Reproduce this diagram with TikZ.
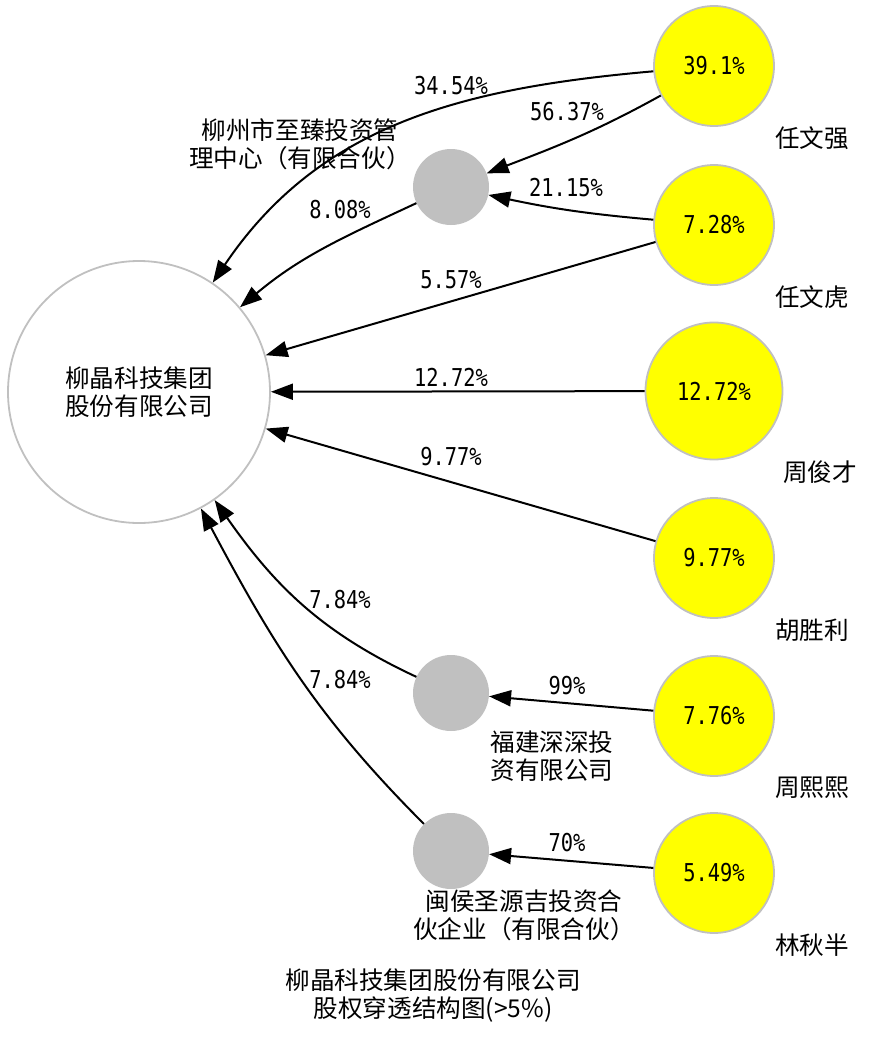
\documentclass[tikz,border=0pt]{standalone}
\usepackage{fontspec}
\setmainfont{Noto Sans CJK SC}
\newfontfamily\zahlfont[FakeStretch=0.83]{DejaVu Sans Mono}
\usetikzlibrary{arrows.meta}
\definecolor{rand}{HTML}{C0C0C0}
\definecolor{gelb}{HTML}{FFFF00}

\begin{document}
\begin{tikzpicture}[x=1pt,y=-1pt,
    pfeil/.style={line width=2pt, -{Triangle[length=22pt,width=16pt]}},
    person/.style={circle, draw=rand, line width=1.8pt, fill=gelb, minimum size=120pt, inner sep=0pt,
                   font=\zahlfont\fontsize{24.6}{28}\selectfont},
    firma/.style={circle, fill=rand, minimum size=76pt, inner sep=0pt},
    anteil/.style={inner sep=0pt, font=\zahlfont\fontsize{24.6}{28}\selectfont},
    beschrift/.style={inner sep=0pt, align=center, font=\fontsize{24.6}{28}\selectfont}]

    \useasboundingbox (0,0) rectangle (868,1042);

    % Zielgesellschaft
    \node[circle, draw=rand, line width=1.8pt, minimum size=262pt, inner sep=0pt, align=center,
          font=\fontsize{24.6}{28}\selectfont] (liujing) at (139,392) {柳晶科技集团\\股份有限公司};

    % Personen (gelb)
    \node[person] (renwq) at (714,66) {39.1\%};
    \node[person] (renwh) at (714,225) {7.28\%};
    \node[person, minimum size=137pt] (zhoujc) at (714,391) {12.72\%};
    \node[person] (husl) at (714,558) {9.77\%};
    \node[person] (zhouxx) at (714,716) {7.76\%};
    \node[person] (linqb) at (714,873) {5.49\%};

    \node[beschrift] (nrenwq) at (812,138) {任文强};
    \node[beschrift] (nrenwh) at (812,297) {任文虎};
    \node[beschrift] (nzhoujc) at (820,472) {周俊才};
    \node[beschrift] (nhusl) at (812,630) {胡胜利};
    \node[beschrift] (nzhouxx) at (812,788) {周熙熙};
    \node[beschrift] (nlinqb) at (812,945) {林秋半};

    % Zwischengesellschaften (grau)
    \node[firma] (zhizhen) at (451,187) {};
    \node[firma] (shenshen) at (451,693) {};
    \node[firma] (shengyuan) at (451,851) {};

    \node[beschrift] (nzhizhen) at (300,144) {柳州市至臻投资管\\理中心（有限合伙）};
    \node[beschrift] (nshenshen) at (552,756) {福建深深投\\资有限公司};
    \node[beschrift] (nshengyuan) at (524,915) {闽侯圣源吉投资合\\伙企业（有限合伙）};

    % Beteiligungen
    \draw[pfeil] (renwq) to[out=185,in=56] (liujing);
    \draw[pfeil] (renwq) to[out=209,in=21] (zhizhen);
    \draw[pfeil] (renwh) to[out=175,in=-12] (zhizhen);
    \draw[pfeil] (zhizhen) to[out=205,in=40] (liujing);
    \draw[pfeil] (renwh) -- (liujing);
    \draw[pfeil] (zhoujc) -- (liujing);
    \draw[pfeil] (husl) -- (liujing);
    \draw[pfeil] (shenshen) to[out=155,in=-55] (liujing);
    \draw[pfeil] (shengyuan) to[out=135,in=-62] (liujing);
    \draw[pfeil] (zhouxx) -- (shenshen);
    \draw[pfeil] (linqb) -- (shengyuan);

    % Anteile
    \node[anteil] (a3454) at (451,86) {34.54\%};
    \node[anteil] (a5637) at (567,112) {56.37\%};
    \node[anteil] (a2115) at (566,188) {21.15\%};
    \node[anteil] (a808) at (340,210) {8.08\%};
    \node[anteil] (a557) at (451,280) {5.57\%};
    \node[anteil] (a1272) at (451,377) {12.72\%};
    \node[anteil] (a977) at (451,457) {9.77\%};
    \node[anteil] (a784a) at (340,600) {7.84\%};
    \node[anteil] (a784b) at (340,680) {7.84\%};
    \node[anteil] (a99) at (567,686) {99\%};
    \node[anteil] (a70) at (567,843) {70\%};

    % Titel
    \node[beschrift] (titel) at (433,996) {柳晶科技集团股份有限公司\\股权穿透结构图(>5\%)};

\end{tikzpicture}
\end{document}
